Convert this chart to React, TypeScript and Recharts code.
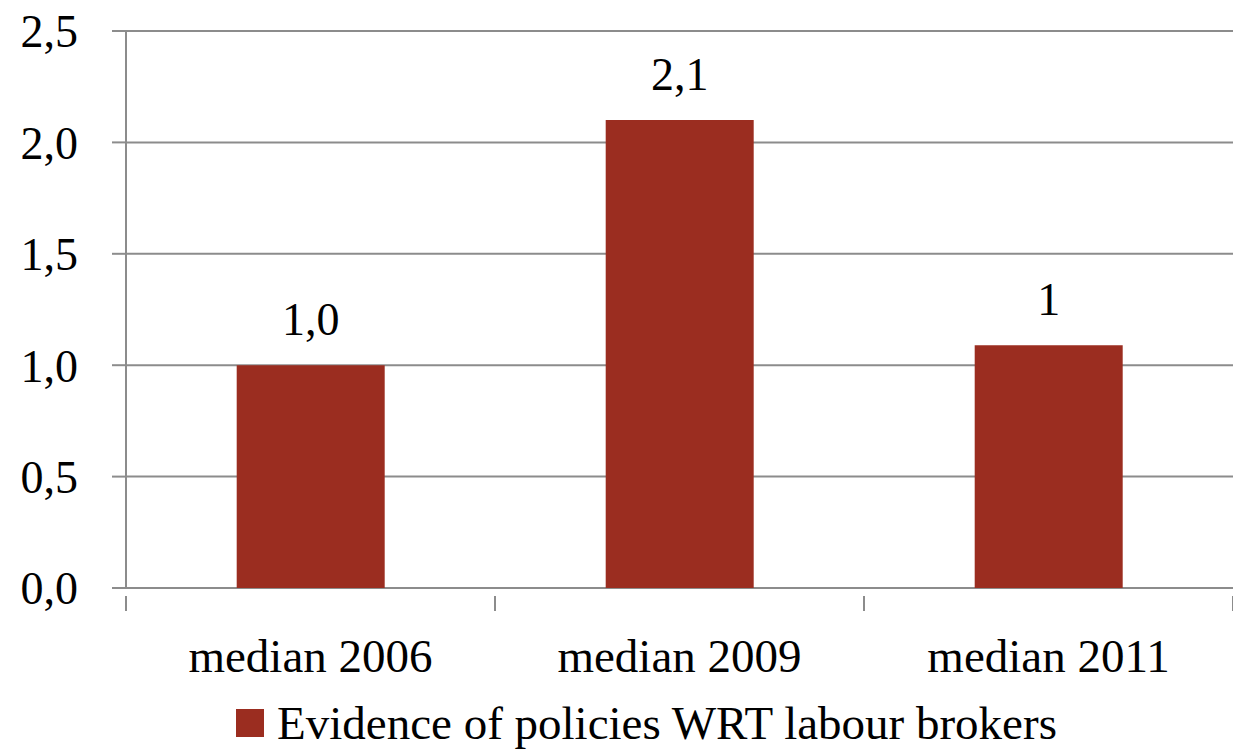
import React from "react";
import {
  Bar,
  BarChart,
  CartesianGrid,
  LabelList,
  Legend,
  XAxis,
  YAxis,
} from "recharts";

const categories = ["median 2006", "median 2009", "median 2011"];
const evidenceValues = [1.0, 2.1, 1.09];
const valueLabels = ["1,0", "2,1", "1"];
const yTicks = [0, 0.5, 1, 1.5, 2, 2.5];

const BAR_COLOR = "#9b2d20";
const GRID = "#8c8c8c";
const FONT = "'Liberation Serif', 'DejaVu Serif', serif";

const data = categories.map((name, i) => ({
  name,
  value: evidenceValues[i],
  label: valueLabels[i],
}));

const BAND = (1233 - 126) / categories.length;

function XTick(props: any) {
  const { x, y, payload, index } = props;
  const left = x - BAND / 2;
  return (
    <g>
      <line x1={left} x2={left} y1={y} y2={y + 15} stroke={GRID} strokeWidth={2} />
      {index === categories.length - 1 && (
        <line x1={left + BAND} x2={left + BAND} y1={y} y2={y + 15} stroke={GRID} strokeWidth={2} />
      )}
      <text
        x={x}
        y={y + 76}
        textAnchor="middle"
        fontFamily={FONT}
        fontSize={47}
        fill="#000"
      >
        {payload.value}
      </text>
    </g>
  );
}

function LegendContent() {
  return (
    <div
      style={{
        display: "flex",
        alignItems: "center",
        justifyContent: "center",
        paddingLeft: 60,
        paddingTop: 10,
        fontFamily: FONT,
        fontSize: 47,
        lineHeight: "50px",
        color: "#000",
      }}
    >
      <span
        style={{
          display: "inline-block",
          width: 28,
          height: 28,
          background: BAR_COLOR,
          marginRight: 13,
        }}
      />
      <span>Evidence of policies WRT labour brokers</span>
    </div>
  );
}

export default function App() {
  return (
    <div style={{ position: "absolute", left: 0, top: 0, background: "#fff" }}>
      <BarChart
        width={1233}
        height={753}
        data={data}
        margin={{ top: 31, right: 0, bottom: 0, left: 0 }}
        barCategoryGap="30%"
      >
        <CartesianGrid vertical={false} stroke={GRID} strokeWidth={2} />
        <XAxis
          dataKey="name"
          axisLine={false}
          tickLine={false}
          tick={<XTick />}
          interval={0}
          height={100}
        />
        <YAxis
          domain={[0, 2.5]}
          ticks={yTicks}
          width={126}
          axisLine={{ stroke: GRID, strokeWidth: 2 }}
          tickLine={{ stroke: GRID, strokeWidth: 2 }}
          tickSize={14}
          tickMargin={34}
          interval={0}
          tickFormatter={(v: number) => v.toFixed(1).replace(".", ",")}
          tick={{ fontFamily: FONT, fontSize: 46, fill: "#000" }}
        />
        <Legend verticalAlign="bottom" height={65} content={<LegendContent />} />
        <Bar dataKey="value" fill={BAR_COLOR} isAnimationActive={false}>
          <LabelList
            dataKey="label"
            position="top"
            offset={30}
            fontFamily={FONT}
            fontSize={46}
            fill="#000"
          />
        </Bar>
      </BarChart>
    </div>
  );
}
